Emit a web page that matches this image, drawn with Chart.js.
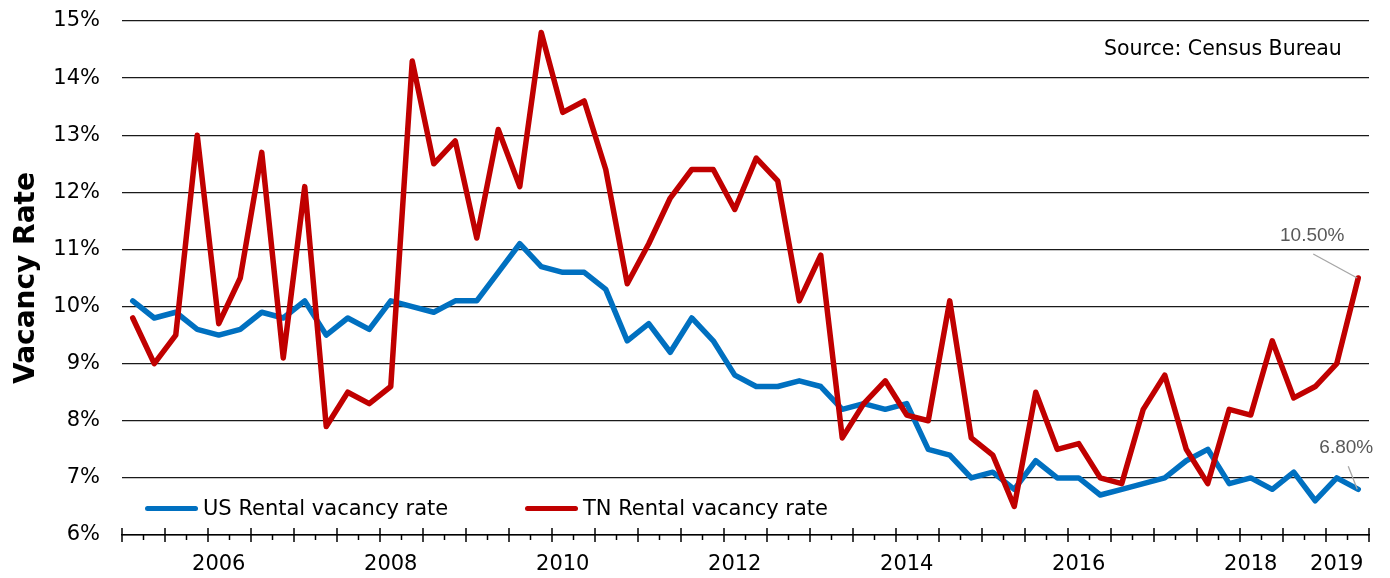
<!DOCTYPE html>
<html lang="en">
<head>
<meta charset="UTF-8">
<title>Rental Vacancy Rate: US vs TN</title>
<script src="https://cdn.jsdelivr.net/npm/chart.js"></script>
<style>
    body { margin: 0; background: #fff; }
    .wrap { position: relative; width: 1390px; height: 578px; }
    canvas { position: absolute; left: 0; top: 0; }
    .legend-item {
        position: absolute;
        top: 495px;
        height: 26px;
        display: flex;
        align-items: center;
        font-family: 'DejaVu Sans', sans-serif;
        font-size: 21px;
        color: #000;
        white-space: nowrap;
    }
    .swatch { width: 53px; height: 5px; border-radius: 3px; margin-right: 5px; }
    .source {
        position: absolute;
        left: 1104px;
        top: 36px;
        font-family: 'DejaVu Sans', sans-serif;
        font-size: 20.5px;
        color: #000;
        white-space: nowrap;
    }
</style>
</head>
<body>
<div class="wrap">
    <canvas id="vacancyChart" width="1390" height="578"></canvas>
    <div class="legend-item" style="left:145px"><div class="swatch" style="background:#0070C0"></div>US Rental vacancy rate</div>
    <div class="legend-item" style="left:525px"><div class="swatch" style="background:#C00000"></div>TN Rental vacancy rate</div>
    <div class="source">Source: Census Bureau</div>
</div>

<script>
    // quarterly, 2005 Q1 .. 2019 Q2
    const quarters = [
        '2005Q1','2005Q2','2005Q3','2005Q4','2006Q1','2006Q2','2006Q3','2006Q4',
        '2007Q1','2007Q2','2007Q3','2007Q4','2008Q1','2008Q2','2008Q3','2008Q4',
        '2009Q1','2009Q2','2009Q3','2009Q4','2010Q1','2010Q2','2010Q3','2010Q4',
        '2011Q1','2011Q2','2011Q3','2011Q4','2012Q1','2012Q2','2012Q3','2012Q4',
        '2013Q1','2013Q2','2013Q3','2013Q4','2014Q1','2014Q2','2014Q3','2014Q4',
        '2015Q1','2015Q2','2015Q3','2015Q4','2016Q1','2016Q2','2016Q3','2016Q4',
        '2017Q1','2017Q2','2017Q3','2017Q4','2018Q1','2018Q2','2018Q3','2018Q4',
        '2019Q1','2019Q2'
    ];

    const usRate = [
        10.1, 9.8, 9.9, 9.6, 9.5, 9.6, 9.9, 9.8,
        10.1, 9.5, 9.8, 9.6, 10.1, 10.0, 9.9, 10.1,
        10.1, 10.6, 11.1, 10.7, 10.6, 10.6, 10.3, 9.4,
        9.7, 9.2, 9.8, 9.4, 8.8, 8.6, 8.6, 8.7,
        8.6, 8.2, 8.3, 8.2, 8.3, 7.5, 7.4, 7.0,
        7.1, 6.8, 7.3, 7.0, 7.0, 6.7, 6.8, 6.9,
        7.0, 7.3, 7.5, 6.9, 7.0, 6.8, 7.1, 6.6,
        7.0, 6.8
    ];

    const tnRate = [
        9.8, 9.0, 9.5, 13.0, 9.7, 10.5, 12.7, 9.1,
        12.1, 7.9, 8.5, 8.3, 8.6, 14.3, 12.5, 12.9,
        11.2, 13.1, 12.1, 14.8, 13.4, 13.6, 12.4, 10.4,
        11.1, 11.9, 12.4, 12.4, 11.7, 12.6, 12.2, 10.1,
        10.9, 7.7, 8.3, 8.7, 8.1, 8.0, 10.1, 7.7,
        7.4, 6.5, 8.5, 7.5, 7.6, 7.0, 6.9, 8.2,
        8.8, 7.5, 6.9, 8.2, 8.1, 9.4, 8.4, 8.6,
        9.0, 10.5
    ];

    // quarters that get a year label under the axis
    const labelledQuarters = ['2006Q1','2008Q1','2010Q1','2012Q1','2014Q1','2016Q1','2018Q1','2019Q1'];

    const yMin = 6, yMax = 15;

    const baseFont = "'DejaVu Sans', sans-serif";

    // tick marks on category boundaries: long every 2 quarters, short in between
    const quarterTicks = {
        id: 'quarterTicks',
        afterDraw(chart) {
            const x = chart.scales.x;
            const yb = chart.chartArea.bottom;
            const ctx = chart.ctx;
            const half = (x.getPixelForValue(1) - x.getPixelForValue(0)) / 2;
            ctx.save();
            ctx.strokeStyle = '#000';
            ctx.lineWidth = 1.5;
            for (let i = 0; i <= quarters.length; i++) {
                const px = i < quarters.length ? x.getPixelForValue(i) - half : x.getPixelForValue(i - 1) + half;
                ctx.beginPath();
                if (i % 2 === 0) {
                    ctx.moveTo(px, yb - 7);
                    ctx.lineTo(px, yb + 7);
                } else {
                    ctx.moveTo(px, yb);
                    ctx.lineTo(px, yb + 5);
                }
                ctx.stroke();
            }
            ctx.restore();
        }
    };

    // value labels with leader lines on the last point of each series
    const endLabels = {
        id: 'endLabels',
        afterDatasetsDraw(chart) {
            const ctx = chart.ctx;
            chart.data.datasets.forEach((ds, di) => {
                const meta = chart.getDatasetMeta(di);
                const pt = meta.data[meta.data.length - 1];
                const off = ds.labelOffset;
                const text = ds.data[ds.data.length - 1].toFixed(2) + '%';
                ctx.save();
                ctx.strokeStyle = '#a6a6a6';
                ctx.lineWidth = 1.3;
                ctx.beginPath();
                ctx.moveTo(pt.x + off.lx, pt.y + off.ly);
                ctx.lineTo(pt.x - 1, pt.y);
                ctx.stroke();
                ctx.fillStyle = '#595959';
                ctx.font = "19px 'Liberation Sans', sans-serif";
                ctx.textAlign = 'center';
                ctx.textBaseline = 'middle';
                ctx.fillText(text, pt.x + off.tx, pt.y + off.ty);
                ctx.restore();
            });
        }
    };

    const ctx = document.getElementById('vacancyChart').getContext('2d');

    new Chart(ctx, {
        type: 'line',
        data: {
            labels: quarters,
            datasets: [
                {
                    label: 'US Rental vacancy rate',
                    data: usRate,
                    borderColor: '#0070C0',
                    borderWidth: 5.5,
                    pointRadius: 0,
                    tension: 0,
                    borderJoinStyle: 'round',
                    borderCapStyle: 'round',
                    order: 2,
                    labelOffset: { tx: -12, ty: -42, lx: -10, ly: -23 }
                },
                {
                    label: 'TN Rental vacancy rate',
                    data: tnRate,
                    borderColor: '#C00000',
                    borderWidth: 5.5,
                    pointRadius: 0,
                    tension: 0,
                    borderJoinStyle: 'round',
                    borderCapStyle: 'round',
                    order: 1,
                    labelOffset: { tx: -46, ty: -42, lx: -45, ly: -24 }
                }
            ]
        },
        options: {
            responsive: false,
            animation: false,
            layout: { padding: { top: 21, right: 21, left: 0, bottom: 0 } },
            plugins: {
                legend: { display: false },
                tooltip: { enabled: false }
            },
            scales: {
                x: {
                    offset: true,
                    grid: { display: false, drawTicks: false },
                    border: { display: true, color: '#000', width: 1.5 },
                    ticks: {
                        autoSkip: false,
                        maxRotation: 0,
                        padding: 17,
                        color: '#000',
                        font: { family: baseFont, size: 21 },
                        callback: function (value, index) {
                            const q = quarters[index];
                            return labelledQuarters.includes(q) ? q.slice(0, 4) : '';
                        }
                    },
                    afterFit: (scale) => { scale.height = 43; }
                },
                y: {
                    min: yMin,
                    max: yMax,
                    // invisible tick length keeps the labels away from the plot without inflating top padding
                    grid: { color: '#1a1a1a', lineWidth: 1.3, drawTicks: true, tickLength: 22, tickColor: 'rgba(0,0,0,0)' },
                    border: { display: false },
                    ticks: {
                        stepSize: 1,
                        padding: 0,
                        color: '#000',
                        font: { family: baseFont, size: 21 },
                        callback: (v) => v + '%'
                    },
                    title: {
                        display: true,
                        text: 'Vacancy Rate',
                        color: '#000',
                        font: { family: baseFont, size: 28, weight: 'bold' },
                        padding: { top: 10, bottom: 0 }
                    },
                    afterFit: (scale) => { scale.width = 122; }
                }
            }
        },
        plugins: [quarterTicks, endLabels]
    });
</script>
</body>
</html>
